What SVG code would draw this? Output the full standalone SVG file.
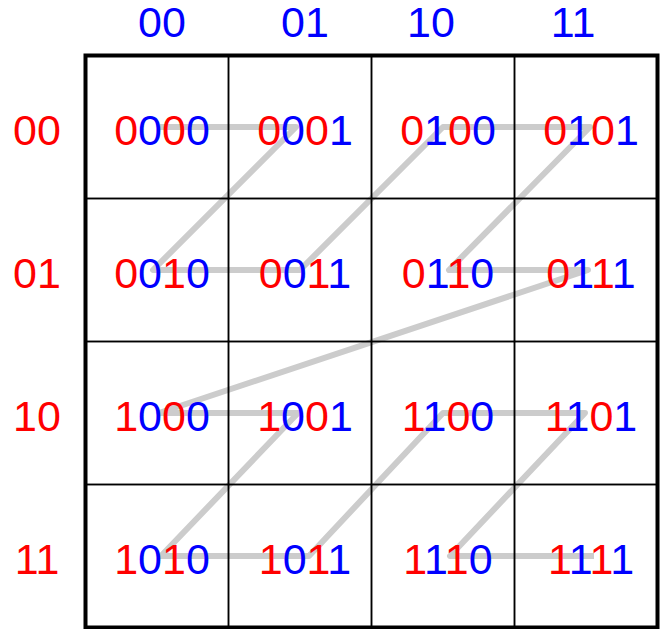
<svg xmlns="http://www.w3.org/2000/svg" width="672" height="629" viewBox="0 0 672 629">
<style>
text{font-family:"Liberation Sans",Arial,sans-serif;font-size:43px;text-anchor:middle}
.r{fill:#ff0000}.b{fill:#0000ff}
.cell{fill:none;stroke:#000;stroke-width:1.5}
.curve{fill:none;stroke:#cccccc;stroke-width:6;stroke-linejoin:round}
</style>
<rect width="672" height="629" fill="#fff"/>
<g id="connectors">
<polyline class="curve" points="160,127 296,127 153,270 300,270 443,127 590,127 449,270 588,270 159,413 298,413 161,556 309,556 443,413 585,413 450,556 594,556"/>
</g>
<g id="col-labels" class="b">
<text x="162" y="37">00</text>
<text x="305" y="37">01</text>
<text x="431" y="37">10</text>
<text x="573" y="37">11</text>
</g>
<g id="row-labels" class="r">
<text x="37" y="145">00</text>
<text x="37" y="288">01</text>
<text x="37" y="431">10</text>
<text x="37" y="574">11</text>
</g>
<g id="c0000"><rect class="cell" x="85.5" y="55.5" width="143" height="143"/><text x="162" y="145"><tspan class="r">0</tspan><tspan class="b">0</tspan><tspan class="r">0</tspan><tspan class="b">0</tspan></text></g>
<g id="c0001"><rect class="cell" x="228.5" y="55.5" width="143" height="143"/><text x="305" y="145"><tspan class="r">0</tspan><tspan class="b">0</tspan><tspan class="r">0</tspan><tspan class="b">1</tspan></text></g>
<g id="c0100"><rect class="cell" x="371.5" y="55.5" width="143" height="143"/><text x="448" y="145"><tspan class="r">0</tspan><tspan class="b">1</tspan><tspan class="r">0</tspan><tspan class="b">0</tspan></text></g>
<g id="c0101"><rect class="cell" x="514.5" y="55.5" width="143" height="143"/><text x="591" y="145"><tspan class="r">0</tspan><tspan class="b">1</tspan><tspan class="r">0</tspan><tspan class="b">1</tspan></text></g>
<g id="c0010"><rect class="cell" x="85.5" y="198.5" width="143" height="143"/><text x="162" y="288"><tspan class="r">0</tspan><tspan class="b">0</tspan><tspan class="r">1</tspan><tspan class="b">0</tspan></text></g>
<g id="c0011"><rect class="cell" x="228.5" y="198.5" width="143" height="143"/><text x="305" y="288"><tspan class="r">0</tspan><tspan class="b">0</tspan><tspan class="r">1</tspan><tspan class="b">1</tspan></text></g>
<g id="c0110"><rect class="cell" x="371.5" y="198.5" width="143" height="143"/><text x="448" y="288"><tspan class="r">0</tspan><tspan class="b">1</tspan><tspan class="r">1</tspan><tspan class="b">0</tspan></text></g>
<g id="c0111"><rect class="cell" x="514.5" y="198.5" width="143" height="143"/><text x="591" y="288"><tspan class="r">0</tspan><tspan class="b">1</tspan><tspan class="r">1</tspan><tspan class="b">1</tspan></text></g>
<g id="c1000"><rect class="cell" x="85.5" y="341.5" width="143" height="143"/><text x="162" y="431"><tspan class="r">1</tspan><tspan class="b">0</tspan><tspan class="r">0</tspan><tspan class="b">0</tspan></text></g>
<g id="c1001"><rect class="cell" x="228.5" y="341.5" width="143" height="143"/><text x="305" y="431"><tspan class="r">1</tspan><tspan class="b">0</tspan><tspan class="r">0</tspan><tspan class="b">1</tspan></text></g>
<g id="c1100"><rect class="cell" x="371.5" y="341.5" width="143" height="143"/><text x="448" y="431"><tspan class="r">1</tspan><tspan class="b">1</tspan><tspan class="r">0</tspan><tspan class="b">0</tspan></text></g>
<g id="c1101"><rect class="cell" x="514.5" y="341.5" width="143" height="143"/><text x="591" y="431"><tspan class="r">1</tspan><tspan class="b">1</tspan><tspan class="r">0</tspan><tspan class="b">1</tspan></text></g>
<g id="c1010"><rect class="cell" x="85.5" y="484.5" width="143" height="143"/><text x="162" y="574"><tspan class="r">1</tspan><tspan class="b">0</tspan><tspan class="r">1</tspan><tspan class="b">0</tspan></text></g>
<g id="c1011"><rect class="cell" x="228.5" y="484.5" width="143" height="143"/><text x="305" y="574"><tspan class="r">1</tspan><tspan class="b">0</tspan><tspan class="r">1</tspan><tspan class="b">1</tspan></text></g>
<g id="c1110"><rect class="cell" x="371.5" y="484.5" width="143" height="143"/><text x="448" y="574"><tspan class="r">1</tspan><tspan class="b">1</tspan><tspan class="r">1</tspan><tspan class="b">0</tspan></text></g>
<g id="c1111"><rect class="cell" x="514.5" y="484.5" width="143" height="143"/><text x="591" y="574"><tspan class="r">1</tspan><tspan class="b">1</tspan><tspan class="r">1</tspan><tspan class="b">1</tspan></text></g>
<rect id="border" x="85.5" y="55.5" width="572" height="572" fill="none" stroke="#000" stroke-width="4"/>
</svg>
